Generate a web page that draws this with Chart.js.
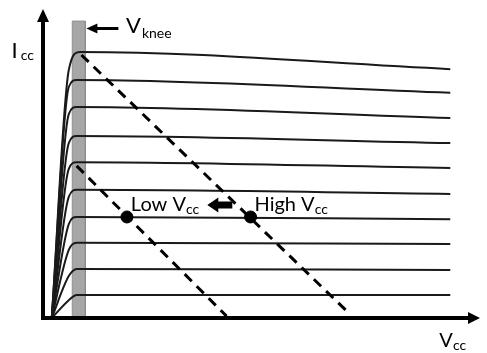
<!DOCTYPE html>
<html>
<head>
<meta charset="utf-8">
<script src="https://cdn.jsdelivr.net/npm/chart.js@4"></script>
<style>
  html, body { margin: 0; padding: 0; background: #ffffff; }
  #wrap { width: 487px; height: 353px; }
</style>
</head>
<body>
<div id="wrap"><canvas id="iv" width="487" height="353"></canvas></div>
<script>
// Output characteristics: Icc vs Vcc with knee region and two load lines

// Vcc points along every curve: origin, bend, plateau start, right end
const curveVcc = [0.2, 0.59, 0.77, 9.32];
const topPeakVcc = 0.84;

// Icc per curve (top to bottom)
const bendIcc = [8.05, 7.50, 6.62, 5.68, 4.84, 3.93, 3.05, 2.21, 1.36, 0.58];
const kneeIcc = [8.64, 7.73, 6.85, 5.91, 5.06, 4.16, 3.28, 2.44, 1.59, 0.75];
const endIcc  = [8.08, 7.31, 6.49, 5.68, 4.87, 4.03, 3.21, 2.40, 1.56, 0.75];

// knee band
const kneeBandVcc = [0.67, 0.97];
const kneeBandTop = 9.64;

// load lines
const highLoadVcc = [0.88, 7.0];
const highLoadIcc = [8.54, 0.16];
const lowLoadVcc = [0.77, 4.2];
const lowLoadIcc = [4.94, 0.06];

// operating points
const opVcc = [1.92, 4.75];
const opIcc = [3.28, 3.28];

const FONT = 'Lato, "Open Sans", sans-serif';

const curveSets = kneeIcc.map((lvl, i) => ({
  type: 'line',
  data: [
    { x: curveVcc[0], y: 0 },
    { x: curveVcc[1], y: bendIcc[i] },
    { x: i === 0 ? topPeakVcc : curveVcc[2], y: lvl },
    { x: curveVcc[3], y: endIcc[i] }
  ],
  borderColor: '#1a1a1a',
  borderWidth: 2,
  pointRadius: 0,
  cubicInterpolationMode: 'monotone',
  fill: false
}));

const datasets = [
  {
    type: 'scatter',
    data: opVcc.map((v, i) => ({ x: v, y: opIcc[i] })),
    backgroundColor: '#000000',
    borderColor: '#000000',
    pointRadius: 6
  },
  {
    type: 'line',
    data: highLoadVcc.map((v, i) => ({ x: v, y: highLoadIcc[i] })),
    borderColor: '#000000',
    borderWidth: 3,
    borderDash: [10, 7],
    pointRadius: 0,
    fill: false
  },
  {
    type: 'line',
    data: lowLoadVcc.map((v, i) => ({ x: v, y: lowLoadIcc[i] })),
    borderColor: '#000000',
    borderWidth: 3,
    borderDash: [10, 7],
    pointRadius: 0,
    fill: false
  },
  ...curveSets,
  {
    type: 'line',
    data: [
      { x: kneeBandVcc[0], y: 0 },
      { x: kneeBandVcc[0], y: kneeBandTop },
      { x: kneeBandVcc[1], y: kneeBandTop },
      { x: kneeBandVcc[1], y: 0 }
    ],
    borderColor: '#8c8c8c',
    borderWidth: 1,
    backgroundColor: '#a6a6a6',
    pointRadius: 0,
    tension: 0,
    fill: 'origin'
  }
];

// text labels (main text + subscript), anchored in data units
const notes = [
  { main: 'I', sub: 'cc', x: -0.72, y: 8.44, size: 22, gap: 3, drop: 2 },
  { main: 'V', sub: 'knee', x: 1.90, y: 9.25, size: 22, gap: 1, drop: 5 },
  { main: 'Low V', sub: 'cc', x: 2.01, y: 3.47, size: 20, gap: 0, drop: 3 },
  { main: 'High V', sub: 'cc', x: 4.84, y: 3.47, size: 20, gap: 0, drop: 3 },
  { main: 'V', sub: 'cc', x: 9.07, y: -0.94, size: 20, gap: 0, drop: 3 }
];

const decorPlugin = {
  id: 'decor',
  afterDatasetsDraw(chart) {
    const ctx = chart.ctx;
    const xs = chart.scales.x, ys = chart.scales.y;
    const ox = xs.getPixelForValue(0), oy = ys.getPixelForValue(0);
    const right = xs.getPixelForValue(10), top = ys.getPixelForValue(10);
    ctx.save();
    ctx.fillStyle = '#000';
    ctx.strokeStyle = '#000';

    // axes with arrow heads
    ctx.lineWidth = 4;
    ctx.beginPath();
    ctx.moveTo(ox, oy + 2);
    ctx.lineTo(ox, top + 10);
    ctx.moveTo(ox - 2, oy);
    ctx.lineTo(right - 8, oy);
    ctx.stroke();
    ctx.beginPath();
    ctx.moveTo(ox, top - 1);
    ctx.lineTo(ox - 6, top + 12);
    ctx.lineTo(ox + 6, top + 12);
    ctx.closePath();
    ctx.fill();
    ctx.beginPath();
    ctx.moveTo(right, oy);
    ctx.lineTo(right - 12, oy - 6);
    ctx.lineTo(right - 12, oy + 6);
    ctx.closePath();
    ctx.fill();

    // arrow pointing at knee band
    const ay = ys.getPixelForValue(9.4);
    const ax = xs.getPixelForValue(kneeBandVcc[1]) + 1;
    ctx.lineWidth = 3;
    ctx.beginPath();
    ctx.moveTo(ax + 32, ay);
    ctx.lineTo(ax + 8, ay);
    ctx.stroke();
    ctx.beginPath();
    ctx.moveTo(ax, ay);
    ctx.lineTo(ax + 11, ay - 5);
    ctx.lineTo(ax + 11, ay + 5);
    ctx.closePath();
    ctx.fill();

    // block arrow between operating points
    const bx = xs.getPixelForValue(3.76), by = ys.getPixelForValue(3.67);
    ctx.beginPath();
    ctx.moveTo(bx, by);
    ctx.lineTo(bx + 11, by - 7.5);
    ctx.lineTo(bx + 11, by - 3.5);
    ctx.lineTo(bx + 25, by - 3.5);
    ctx.lineTo(bx + 25, by + 3.5);
    ctx.lineTo(bx + 11, by + 3.5);
    ctx.lineTo(bx + 11, by + 7.5);
    ctx.closePath();
    ctx.fill();

    // labels
    ctx.textBaseline = 'alphabetic';
    ctx.textAlign = 'left';
    notes.forEach(n => {
      const px = xs.getPixelForValue(n.x), py = ys.getPixelForValue(n.y);
      ctx.font = n.size + 'px ' + FONT;
      ctx.fillText(n.main, px, py);
      const w = ctx.measureText(n.main).width;
      ctx.font = '14px ' + FONT;
      ctx.fillText(n.sub, px + w + n.gap, py + n.drop);
    });
    ctx.restore();
  }
};

new Chart(document.getElementById('iv'), {
  data: { datasets: datasets },
  options: {
    responsive: false,
    animation: false,
    layout: { padding: { left: 43, right: 2, top: 10, bottom: 35 } },
    plugins: {
      legend: { display: false },
      tooltip: { enabled: false }
    },
    scales: {
      x: { type: 'linear', min: 0, max: 10, display: false },
      y: { type: 'linear', min: 0, max: 10, display: false }
    }
  },
  plugins: [decorPlugin]
});
</script>
</body>
</html>
